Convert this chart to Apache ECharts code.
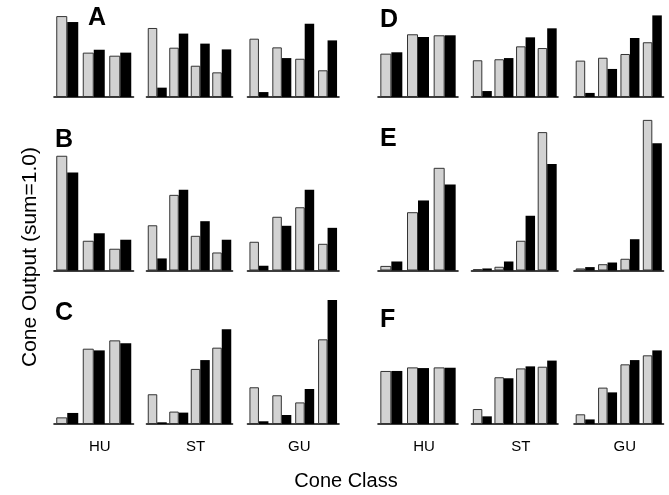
<!DOCTYPE html>
<html><head><meta charset="utf-8">
<script src="https://cdn.jsdelivr.net/npm/echarts@6/dist/echarts.min.js"></script>
<style>html,body{margin:0;padding:0;background:#fff}#c{width:669px;height:495px}</style>
</head><body><div id="c"></div>
<script>
// Cone classes per group (HU has 3 cone classes, ST and GU have 4)
const groupNames = ['HU', 'ST', 'GU'];
const conesHU = ['1', '2', '3'];
const conesST = ['1', '2', '3', '4'];
const conesGU = ['1', '2', '3', '4'];
const panelNames = ['A', 'B', 'C', 'D', 'E', 'F'];

// Values: [HU, ST, GU] ; gray = first condition, black = second condition
const A_gray  = [[0.476, 0.261, 0.243], [0.406, 0.290, 0.184, 0.145], [0.343, 0.292, 0.225, 0.157]];
const A_black = [[0.441, 0.278, 0.261], [0.055, 0.373, 0.314, 0.280], [0.029, 0.229, 0.431, 0.333]];
const B_gray  = [[0.675, 0.175, 0.128], [0.266, 0.445, 0.204, 0.106], [0.169, 0.316, 0.372, 0.157]];
const B_black = [[0.576, 0.219, 0.181], [0.071, 0.475, 0.290, 0.181], [0.028, 0.263, 0.475, 0.251]];
const C_gray  = [[0.039, 0.443, 0.492], [0.175, 0.073, 0.324, 0.449], [0.216, 0.169, 0.127, 0.498]];
const C_black = [[0.065, 0.433, 0.475], [0.010, 0.067, 0.376, 0.557], [0.016, 0.053, 0.206, 0.729]];
const D_gray  = [[0.255, 0.369, 0.363], [0.216, 0.222, 0.298, 0.288], [0.214, 0.231, 0.253, 0.322]];
const D_black = [[0.263, 0.353, 0.363], [0.035, 0.229, 0.351, 0.404], [0.024, 0.165, 0.347, 0.480]];
const E_gray  = [[0.027, 0.343, 0.604], [0.008, 0.022, 0.175, 0.814], [0.012, 0.037, 0.069, 0.886]];
const E_black = [[0.053, 0.412, 0.506], [0.012, 0.053, 0.322, 0.627], [0.020, 0.047, 0.184, 0.749]];
const F_gray  = [[0.312, 0.333, 0.333], [0.088, 0.275, 0.327, 0.337], [0.057, 0.214, 0.351, 0.404]];
const F_black = [[0.312, 0.329, 0.331], [0.045, 0.269, 0.339, 0.373], [0.027, 0.186, 0.376, 0.433]];

const grayData = [A_gray, B_gray, C_gray, D_gray, E_gray, F_gray];
const blackData = [A_black, B_black, C_black, D_black, E_black, F_black];
const coneLists = [conesHU, conesST, conesGU];

// ----- layout -----
const PX_PER_UNIT = 170;
const colSpans = [
  [[54, 133.5], [146.5, 232.5], [247.5, 339]],
  [[378, 458], [471.5, 558], [574, 663.5]]
];
const rowBase = [97, 270.5, 424];
const panelMax = [0.5, 0.7, 0.75, 0.5, 0.9, 0.75];
const barW = [11, 9.5, 9.5];
const letterPos = [[88, 18.5], [55, 140], [55, 313], [380, 20], [380, 139], [380, 320]];

const grids = [], xAxes = [], yAxes = [], series = [], graphics = [];
let gi = 0;
for (let p = 0; p < 6; p++) {
  const col = Math.floor(p / 3), row = p % 3;
  const h = panelMax[p] * PX_PER_UNIT;
  for (let g = 0; g < 3; g++) {
    const [x0, x1] = colSpans[col][g];
    grids.push({ left: x0, width: x1 - x0, top: rowBase[row] - h, height: h, containLabel: false });
    const isBottom = row === 2;
    xAxes.push({
      type: 'category', gridIndex: gi, data: coneLists[g],
      axisLine: { show: true, lineStyle: { color: '#000', width: 1.6 } },
      axisTick: { show: false }, axisLabel: { show: false },
      name: isBottom ? groupNames[g] : '', nameLocation: 'middle', nameGap: 15,
      nameTextStyle: { color: '#000', fontSize: 15, fontFamily: 'Liberation Sans', padding: [0, 0, 0, 12] }
    });
    yAxes.push({ type: 'value', gridIndex: gi, min: 0, max: panelMax[p], show: false, splitLine: { show: false } });
    series.push({
      type: 'bar', xAxisIndex: gi, yAxisIndex: gi, data: grayData[p][g],
      barWidth: barW[g], barGap: '0%',
      itemStyle: { color: '#d2d2d2', borderColor: '#333', borderWidth: 1 }, silent: true
    });
    series.push({
      type: 'bar', xAxisIndex: gi, yAxisIndex: gi, data: blackData[p][g],
      barWidth: barW[g], barGap: '0%',
      itemStyle: { color: '#000' }, silent: true
    });
    gi++;
  }
  graphics.push({
    type: 'text', x: letterPos[p][0], y: letterPos[p][1],
    style: { text: panelNames[p], font: 'bold 25px "Liberation Sans"', fill: '#000', textAlign: 'left', textVerticalAlign: 'middle' }
  });
}
graphics.push({
  type: 'text', x: 346, y: 481,
  style: { text: 'Cone Class', font: '20px "Liberation Sans"', fill: '#000', textAlign: 'center', textVerticalAlign: 'middle' }
});
graphics.push({
  type: 'text', x: 30, y: 257, rotation: Math.PI / 2,
  style: { text: 'Cone Output (sum=1.0)', font: '21px "Liberation Sans"', fill: '#000', textAlign: 'center', textVerticalAlign: 'middle' }
});

const chart = echarts.init(document.getElementById('c'), null, { renderer: 'canvas' });
chart.setOption({
  animation: false, backgroundColor: '#fff',
  grid: grids, xAxis: xAxes, yAxis: yAxes, series: series, graphic: graphics
});
</script></body></html>
